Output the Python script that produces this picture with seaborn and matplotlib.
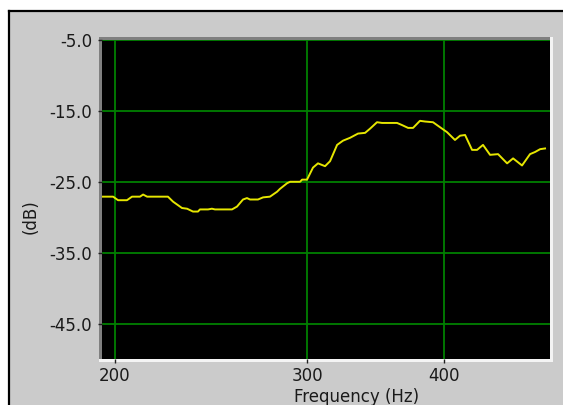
import matplotlib
matplotlib.use("Agg")
import matplotlib.pyplot as plt
import matplotlib.ticker as mticker
from matplotlib.patches import Rectangle
from matplotlib.lines import Line2D
import seaborn as sns
import pandas as pd

freq_hz = [194.6, 199.2, 201.3, 205.1, 207.3, 210.8, 212.2, 214.0, 223.6, 226.0,
           230.3, 232.8, 235.7, 238.2, 239.2, 243.3, 245.3, 246.9, 255.9, 258.6,
           261.9, 264.1, 265.8, 270.3, 273.2, 277.2, 281.4, 283.1, 287.4, 289.2,
           295.3, 296.6, 299.7, 303.5, 306.7, 311.3, 314.6, 319.3, 323.3, 328.1,
           333.7, 338.7, 342.3, 347.3, 351.0, 362.3, 366.1, 370.8, 374.7, 380.2,
           384.3, 390.8, 394.9, 402.5, 409.3, 413.7, 418.1, 424.3, 428.8, 434.2,
           440.7, 448.2, 456.8, 462.6, 471.4, 479.4, 484.5, 489.7, 494.8]
level_db = [-27.1, -27.1, -27.6, -27.6, -27.1, -27.1, -26.8, -27.1, -27.1, -27.8,
            -28.7, -28.8, -29.2, -29.2, -28.9, -28.9, -28.8, -28.9, -28.9, -28.5,
            -27.5, -27.3, -27.5, -27.5, -27.2, -27.1, -26.4, -26.0, -25.2, -25.0,
            -25.0, -24.7, -24.7, -23.0, -22.4, -22.8, -22.1, -19.8, -19.2, -18.8,
            -18.2, -18.1, -17.5, -16.6, -16.7, -16.7, -17.0, -17.4, -17.4, -16.4,
            -16.5, -16.6, -17.1, -18.0, -19.1, -18.5, -18.4, -20.5, -20.5, -19.8,
            -21.2, -21.1, -22.4, -21.7, -22.7, -21.1, -20.8, -20.4, -20.3]
x_ticks = [200, 300, 400]
x_tick_labels = ["200", "300", "400"]
y_ticks = [-5.0, -15.0, -25.0, -35.0, -45.0]
y_tick_labels = ["-5.0", "-15.0", "-25.0", "-35.0", "-45.0"]

df = pd.DataFrame({"freq": freq_hz, "db": level_db})

W, H = 563, 405
fig = plt.figure(figsize=(W / 100, H / 100), dpi=100)
fig.patch.set_facecolor("white")
fig.patch.set_edgecolor("none")
fig.patch.set_linewidth(0)

def fx(px):
    return px / W

def fy(py):
    return 1 - py / H

# gray panel
fig.patches.append(Rectangle((fx(9), -0.5), 2.0, fy(11) + 0.5,
                             transform=fig.transFigure, facecolor="#cbcbcb",
                             edgecolor="none", zorder=0))
# black frame on left and top only
fig.lines.append(Line2D([fx(9), fx(9)], [0, fy(11)], transform=fig.transFigure,
                        color="black", linewidth=1.6, zorder=0.2))
fig.lines.append(Line2D([fx(9), 1.0], [fy(11), fy(11)], transform=fig.transFigure,
                        color="black", linewidth=1.6, zorder=0.2))
# bevel
fig.patches.append(Rectangle((fx(99), fy(362)), fx(454), fy(37) - fy(362),
                             transform=fig.transFigure, facecolor="#f4f4f4",
                             edgecolor="none", zorder=0.5))
fig.patches.append(Rectangle((fx(99), fy(359)), fx(451), fy(37) - fy(359),
                             transform=fig.transFigure, facecolor="#808080",
                             edgecolor="none", zorder=0.6))
# keep the right margin plain gray
fig.patches.append(Rectangle((fx(554), -0.1), 0.2, fy(12.5) + 0.1,
                             transform=fig.transFigure, facecolor="#cbcbcb",
                             edgecolor="none", zorder=5))

ax = fig.add_axes([fx(102), fy(359), fx(550) - fx(102), fy(40) - fy(359)])
ax.set_facecolor("black")
ax.set_zorder(1)

sns.lineplot(data=df, x="freq", y="db", ax=ax, color="#e6e600",
             linewidth=1.4, estimator=None, sort=False, legend=False)

ax.set_xscale("log")
ax.set_xlim(194.6, 500)
ax.set_ylim(-50, -5)
ax.xaxis.set_minor_locator(mticker.NullLocator())
ax.xaxis.set_minor_formatter(mticker.NullFormatter())
ax.set_xticks(x_ticks)
ax.set_xticklabels(x_tick_labels)
ax.set_yticks(y_ticks)
ax.set_yticklabels(y_tick_labels)
ax.grid(True, color="#008000", linewidth=1.3)
ax.set_axisbelow(True)
for s in ax.spines.values():
    s.set_visible(False)
ax.tick_params(axis="both", length=3.0, width=1, color="#202020",
               labelsize=12, labelcolor="#1a1a1a")
ax.tick_params(axis="y", pad=4)
ax.tick_params(axis="x", pad=2.5)
ax.set_xlabel("")
ax.set_ylabel("")

fig.text(fx(294), fy(401.5), "Frequency (Hz)", ha="left", va="baseline",
         fontsize=12, color="#1a1a1a")
fig.text(fx(31), fy(217), "(dB)", ha="center", va="center", rotation=90,
         fontsize=12, color="#1a1a1a")

fig.savefig("out.png", dpi=100, facecolor=fig.get_facecolor())
